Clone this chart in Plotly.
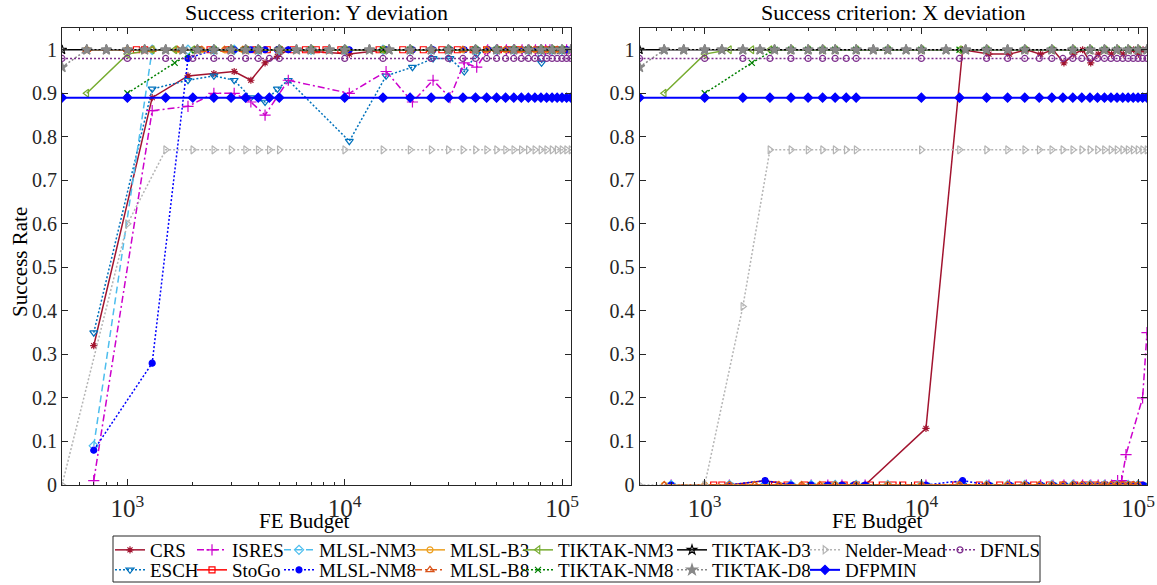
import math
import plotly.graph_objects as go

# ---------------- data ----------------
BUDGET_GRID = [500, 1000, 1500, 2000, 2500, 3000, 3500, 4000, 4500, 5000,
               10000, 15000, 20000, 25000, 30000, 35000, 40000, 45000, 50000, 55000,
               60000, 65000, 70000, 75000, 80000, 85000, 90000, 95000, 100000, 105000, 110000]
BUDGET_RUN = [700, 1300, 1900, 2500, 3100, 3700, 4300, 4900, 5500,
              10500, 15500, 20500, 25500, 30500, 35500, 40500, 45500, 50500, 55500,
              60500, 65500, 70500, 75500, 80500, 85500, 90500, 95500, 100500, 105500]
BUDGET_ISRES = [700, 1300, 1900, 2500, 3100, 3700, 4300, 5500,
                10500, 15500, 20500, 25500, 30500, 35500, 40500, 45500, 50500, 55500,
                60500, 65500, 70500, 75500, 80500, 84000, 88000, 105000, 110000]
BUDGET_NM3 = [700, 1300, 1900, 2500, 3100, 4000, 5000, 7000, 10000, 15000,
              20000, 25000, 30000, 40000, 50000, 60000, 70000, 80000, 90000, 100000]
BUDGET_B = [650, 1000, 1300, 1700, 2200, 2800, 3400, 4000, 5000, 7000,
            10000, 15000, 20000, 25000, 30000, 35000, 40000, 45000, 50000, 55000,
            60000, 65000, 70000, 75000, 80000, 85000, 90000, 95000, 100000]
BUDGET_STOGO = [1100, 1200, 2100, 2400, 2900, 3500, 3900, 4400, 5000, 5800,
                6600, 7400, 8200, 9600, 14400, 18500, 23000, 28000, 33000, 39000,
                45000, 51000, 57000, 63000, 70000, 77000, 85000, 93000, 102000]
BUDGET_TIKTAK = [500, 650, 800, 1000, 1200, 1500, 1800, 2100, 2500, 3000,
                 3500, 4000, 5000, 6000, 7000, 8500, 10000, 13000, 16000, 20000,
                 25000, 30000, 40000, 50000, 60000, 70000, 80000, 90000, 100000, 110000]
BUDGET_TIKTAK_NM3 = [650, 1000, 1300, 1650, 2000, 2500, 3000, 3500, 4000, 5000, 7000,
                     10000, 15000, 20000, 30000, 40000, 50000, 60000, 70000, 80000, 90000, 100000]
BUDGET_TIKTAK_NM8 = [1000, 1650, 2100, 2500, 3000, 3500, 4000, 5000, 7000,
                     10000, 15000, 20000, 30000, 40000, 50000, 60000, 70000, 80000, 90000, 100000]

# success rates, criterion Y deviation (left) and X deviation (right)
CRS_YDEV = [0.32, 0.89, 0.94, 0.945, 0.95, 0.93, 0.97, 0.985, 1.0,
            0.99, 1.0, 1.0, 1.0, 1.0, 1.0, 1.0, 1.0, 1.0, 1.0,
            1.0, 1.0, 1.0, 1.0, 1.0, 1.0, 1.0, 1.0, 1.0, 1.0]
CRS_XDEV = [0.0, 0.0, 0.01, 0.0, 0.0, 0.0, 0.0, 0.0, 0.0,
            0.13, 1.0, 0.99, 0.99, 1.0, 0.99, 1.0, 0.97, 0.99, 1.0,
            0.97, 0.99, 1.0, 0.99, 1.0, 0.99, 1.0, 1.0, 0.99, 1.0]
ESCH_YDEV = [0.35, 0.91, 0.93, 0.94, 0.93, 0.89, 0.88, 0.91, 0.93,
             0.79, 0.94, 0.96, 0.98, 0.98, 0.95, 0.99, 1.0, 1.0, 1.0,
             1.0, 1.0, 1.0, 1.0, 0.97, 1.0, 1.0, 1.0, 1.0, 1.0]
ESCH_XDEV = [0.0, 0.0, 0.0, 0.0, 0.0, 0.0, 0.0, 0.0, 0.0,
             0.0, 0.0, 0.0, 0.0, 0.0, 0.0, 0.0, 0.0, 0.0, 0.0,
             0.0, 0.0, 0.0, 0.0, 0.0, 0.0, 0.0, 0.0, 0.0, 0.0]
ISRES_YDEV = [0.01, 0.86, 0.87, 0.90, 0.90, 0.88, 0.85, 0.93,
              0.90, 0.95, 0.88, 0.93, 0.89, 0.97, 0.96, 1.0, 1.0, 1.0,
              1.0, 1.0, 1.0, 1.0, 1.0, 1.0, 1.0, 1.0, 1.0]
ISRES_XDEV = [0.0, 0.0, 0.0, 0.0, 0.0, 0.0, 0.0, 0.0,
              0.0, 0.0, 0.0, 0.0, 0.0, 0.0, 0.0, 0.0, 0.0, 0.0,
              0.0, 0.0, 0.0, 0.0, 0.01, 0.01, 0.07, 0.20, 0.35]
STOGO_YDEV = [1.0, 1.0, 1.0, 1.0, 1.0, 1.0, 1.0, 1.0, 1.0, 1.0,
              1.0, 1.0, 1.0, 1.0, 1.0, 1.0, 1.0, 1.0, 1.0, 1.0,
              1.0, 1.0, 1.0, 1.0, 1.0, 1.0, 1.0, 1.0, 1.0]
STOGO_XDEV = [0.0, 0.0, 0.0, 0.0, 0.0, 0.0, 0.0, 0.0, 0.0, 0.0,
              0.0, 0.0, 0.0, 0.0, 0.0, 0.0, 0.0, 0.0, 0.0, 0.0,
              0.0, 0.0, 0.0, 0.0, 0.0, 0.0, 0.0, 0.0, 0.0]
MLSL_NM3_YDEV = [0.09, 1.0, 1.0, 1.0, 1.0, 1.0, 1.0, 1.0, 1.0, 1.0,
                 1.0, 1.0, 1.0, 1.0, 1.0, 1.0, 1.0, 1.0, 1.0, 1.0]
MLSL_NM3_XDEV = [0.0, 0.0, 0.0, 0.0, 0.0, 0.0, 0.0, 0.0, 0.0, 0.0,
                 0.0, 0.0, 0.0, 0.0, 0.0, 0.0, 0.0, 0.0, 0.0, 0.0]
MLSL_NM8_YDEV = [0.08, 0.28, 0.98, 1.0, 1.0, 1.0, 1.0, 1.0, 1.0,
                 1.0, 1.0, 1.0, 1.0, 1.0, 1.0, 1.0, 1.0, 1.0, 1.0,
                 1.0, 1.0, 1.0, 1.0, 1.0, 1.0, 1.0, 1.0, 1.0, 1.0]
MLSL_NM8_XDEV = [0.0, 0.0, 0.01, 0.0, 0.0, 0.0, 0.0, 0.0, 0.0,
                 0.0, 0.01, 0.0, 0.0, 0.0, 0.0, 0.0, 0.0, 0.0, 0.0,
                 0.0, 0.0, 0.0, 0.0, 0.0, 0.0, 0.0, 0.0, 0.0, 0.0]
MLSL_B3_YDEV = [1.0, 1.0, 1.0, 1.0, 1.0, 1.0, 1.0, 1.0, 1.0, 1.0,
                1.0, 1.0, 1.0, 1.0, 1.0, 1.0, 1.0, 1.0, 1.0, 1.0,
                1.0, 1.0, 1.0, 1.0, 1.0, 1.0, 1.0, 1.0, 1.0]
MLSL_B3_XDEV = [0.0, 0.0, 0.0, 0.0, 0.0, 0.0, 0.0, 0.0, 0.0, 0.0,
                0.0, 0.0, 0.0, 0.0, 0.0, 0.0, 0.0, 0.0, 0.0, 0.0,
                0.0, 0.0, 0.0, 0.0, 0.0, 0.0, 0.0, 0.0, 0.0]
MLSL_B8_YDEV = [1.0, 1.0, 1.0, 1.0, 1.0, 1.0, 1.0, 1.0, 1.0, 1.0,
                1.0, 1.0, 1.0, 1.0, 1.0, 1.0, 1.0, 1.0, 1.0, 1.0,
                1.0, 1.0, 1.0, 1.0, 1.0, 1.0, 1.0, 1.0, 1.0]
MLSL_B8_XDEV = [0.0, 0.0, 0.0, 0.0, 0.0, 0.0, 0.0, 0.0, 0.0, 0.0,
                0.0, 0.0, 0.0, 0.0, 0.0, 0.0, 0.0, 0.0, 0.0, 0.0,
                0.0, 0.0, 0.0, 0.0, 0.0, 0.0, 0.0, 0.0, 0.0]
TIKTAK_NM3_YDEV = [0.90, 0.99, 1.0, 1.0, 1.0, 1.0, 1.0, 1.0, 1.0, 1.0, 1.0,
                   1.0, 1.0, 1.0, 1.0, 1.0, 1.0, 1.0, 1.0, 1.0, 1.0, 1.0]
TIKTAK_NM3_XDEV = [0.90, 0.99, 1.0, 1.0, 1.0, 1.0, 1.0, 1.0, 1.0, 1.0, 1.0,
                   1.0, 1.0, 1.0, 1.0, 1.0, 1.0, 1.0, 1.0, 1.0, 1.0, 1.0]
TIKTAK_NM8_YDEV = [0.90, 0.97, 1.0, 1.0, 1.0, 1.0, 1.0, 1.0, 1.0,
                   1.0, 1.0, 1.0, 1.0, 1.0, 1.0, 1.0, 1.0, 1.0, 1.0, 1.0]
TIKTAK_NM8_XDEV = [0.90, 0.97, 1.0, 1.0, 1.0, 1.0, 1.0, 1.0, 1.0,
                   1.0, 1.0, 1.0, 1.0, 1.0, 1.0, 1.0, 1.0, 1.0, 1.0, 1.0]
TIKTAK_D3_YDEV = [1.0, 1.0, 1.0, 1.0, 1.0, 1.0, 1.0, 1.0, 1.0, 1.0,
                  1.0, 1.0, 1.0, 1.0, 1.0, 1.0, 1.0, 1.0, 1.0, 1.0,
                  1.0, 1.0, 1.0, 1.0, 1.0, 1.0, 1.0, 1.0, 1.0, 1.0]
TIKTAK_D3_XDEV = [1.0, 1.0, 1.0, 1.0, 1.0, 1.0, 1.0, 1.0, 1.0, 1.0,
                  1.0, 1.0, 1.0, 1.0, 1.0, 1.0, 1.0, 1.0, 1.0, 1.0,
                  1.0, 1.0, 1.0, 1.0, 1.0, 1.0, 1.0, 1.0, 1.0, 1.0]
TIKTAK_D8_YDEV = [0.96, 1.0, 1.0, 1.0, 1.0, 1.0, 1.0, 1.0, 1.0, 1.0,
                  1.0, 1.0, 1.0, 1.0, 1.0, 1.0, 1.0, 1.0, 1.0, 1.0,
                  1.0, 1.0, 1.0, 1.0, 1.0, 1.0, 1.0, 1.0, 1.0, 1.0]
TIKTAK_D8_XDEV = [0.96, 1.0, 1.0, 1.0, 1.0, 1.0, 1.0, 1.0, 1.0, 1.0,
                  1.0, 1.0, 1.0, 1.0, 1.0, 1.0, 1.0, 1.0, 1.0, 1.0,
                  1.0, 1.0, 1.0, 1.0, 1.0, 1.0, 1.0, 1.0, 1.0, 1.0]
NM_YDEV = [0.0, 0.60, 0.77, 0.77, 0.77, 0.77, 0.77, 0.77, 0.77, 0.77,
           0.77, 0.77, 0.77, 0.77, 0.77, 0.77, 0.77, 0.77, 0.77, 0.77,
           0.77, 0.77, 0.77, 0.77, 0.77, 0.77, 0.77, 0.77, 0.77, 0.77, 0.77]
NM_XDEV = [0.0, 0.0, 0.41, 0.77, 0.77, 0.77, 0.77, 0.77, 0.77, 0.77,
           0.77, 0.77, 0.77, 0.77, 0.77, 0.77, 0.77, 0.77, 0.77, 0.77,
           0.77, 0.77, 0.77, 0.77, 0.77, 0.77, 0.77, 0.77, 0.77, 0.77, 0.77]
DFNLS_YDEV = [0.98, 0.98, 0.98, 0.98, 0.98, 0.98, 0.98, 0.98, 0.98, 0.98,
              0.98, 0.98, 0.98, 0.98, 0.98, 0.98, 0.98, 0.98, 0.98, 0.98,
              0.98, 0.98, 0.98, 0.98, 0.98, 0.98, 0.98, 0.98, 0.98, 0.98, 0.98]
DFNLS_XDEV = [0.98, 0.98, 0.98, 0.98, 0.98, 0.98, 0.98, 0.98, 0.98, 0.98,
              0.98, 0.98, 0.98, 0.98, 0.98, 0.98, 0.98, 0.98, 0.98, 0.98,
              0.98, 0.98, 0.98, 0.98, 0.98, 0.98, 0.98, 0.98, 0.98, 0.98, 0.98]
DFPMIN_YDEV = [0.89, 0.89, 0.89, 0.89, 0.89, 0.89, 0.89, 0.89, 0.89, 0.89,
               0.89, 0.89, 0.89, 0.89, 0.89, 0.89, 0.89, 0.89, 0.89, 0.89,
               0.89, 0.89, 0.89, 0.89, 0.89, 0.89, 0.89, 0.89, 0.89, 0.89, 0.89]
DFPMIN_XDEV = [0.89, 0.89, 0.89, 0.89, 0.89, 0.89, 0.89, 0.89, 0.89, 0.89,
               0.89, 0.89, 0.89, 0.89, 0.89, 0.89, 0.89, 0.89, 0.89, 0.89,
               0.89, 0.89, 0.89, 0.89, 0.89, 0.89, 0.89, 0.89, 0.89, 0.89, 0.89]

TITLES = ["Success criterion: Y deviation", "Success criterion: X deviation"]

# drawing order
SERIES = [
    ("CRS", BUDGET_RUN, CRS_YDEV, CRS_XDEV),
    ("ESCH", BUDGET_RUN, ESCH_YDEV, ESCH_XDEV),
    ("ISRES", BUDGET_ISRES, ISRES_YDEV, ISRES_XDEV),
    ("StoGo", BUDGET_STOGO, STOGO_YDEV, STOGO_XDEV),
    ("MLSL-NM3", BUDGET_NM3, MLSL_NM3_YDEV, MLSL_NM3_XDEV),
    ("MLSL-NM8", BUDGET_RUN, MLSL_NM8_YDEV, MLSL_NM8_XDEV),
    ("MLSL-B3", BUDGET_B, MLSL_B3_YDEV, MLSL_B3_XDEV),
    ("MLSL-B8", BUDGET_B, MLSL_B8_YDEV, MLSL_B8_XDEV),
    ("TIKTAK-NM3", BUDGET_TIKTAK_NM3, TIKTAK_NM3_YDEV, TIKTAK_NM3_XDEV),
    ("TIKTAK-NM8", BUDGET_TIKTAK_NM8, TIKTAK_NM8_YDEV, TIKTAK_NM8_XDEV),
    ("TIKTAK-D3", BUDGET_TIKTAK, TIKTAK_D3_YDEV, TIKTAK_D3_XDEV),
    ("TIKTAK-D8", BUDGET_TIKTAK, TIKTAK_D8_YDEV, TIKTAK_D8_XDEV),
    ("Nelder-Mead", BUDGET_GRID, NM_YDEV, NM_XDEV),
    ("DFNLS", BUDGET_GRID, DFNLS_YDEV, DFNLS_XDEV),
    ("DFPMIN", BUDGET_GRID, DFPMIN_YDEV, DFPMIN_XDEV),
]

# ---------------- styles ----------------
DOT = "2px,2px"
DASH = "7px,4px"
DASHDOT = "7px,3px,2px,3px"
STYLE = {
    "CRS": dict(color="#A2142F", dash="solid", symbol="asterisk-open", size=6, width=1.5),
    "ISRES": dict(color="#CC00CC", dash=DASHDOT, symbol="cross-thin-open", size=8, width=1.5),
    "MLSL-NM3": dict(color="#4DBEEE", dash=DASH, symbol="diamond-open", size=7, width=1.5),
    "MLSL-B3": dict(color="#EDA020", dash="solid", symbol="circle-open", size=6, width=1.5),
    "TIKTAK-NM3": dict(color="#77AC30", dash="solid", symbol="triangle-left-open", size=7, width=1.5),
    "TIKTAK-D3": dict(color="#000000", dash="solid", symbol="star-open", size=7, width=1.5),
    "Nelder-Mead": dict(color="#B4B4B4", dash=DOT, symbol="triangle-right-open", size=7, width=1.5),
    "DFNLS": dict(color="#7E2F8E", dash=DOT, symbol="circle-open", size=6, width=1.5),
    "ESCH": dict(color="#0072BD", dash=DOT, symbol="triangle-down-open", size=7, width=1.5),
    "StoGo": dict(color="#FF0000", dash="solid", symbol="square-open", size=6, width=1.5),
    "MLSL-NM8": dict(color="#0000FF", dash=DOT, symbol="circle", size=6, width=1.5),
    "MLSL-B8": dict(color="#D95319", dash=DASHDOT, symbol="triangle-up-open", size=7, width=1.5),
    "TIKTAK-NM8": dict(color="#008000", dash=DOT, symbol="x-thin-open", size=6, width=1.5),
    "TIKTAK-D8": dict(color="#888888", dash=DOT, symbol="star", size=8, width=1.5),
    "DFPMIN": dict(color="#0000FF", dash="solid", symbol="diamond", size=7, width=2.0),
}

# legend cell (left px of entry, row) -- layout only
LEGEND_CELL = {
    "CRS": (120, 0), "ISRES": (202, 0), "MLSL-NM3": (289, 0), "MLSL-B3": (420, 0),
    "TIKTAK-NM3": (528, 0), "TIKTAK-D3": (682, 0), "Nelder-Mead": (815, 0), "DFNLS": (950, 0),
    "ESCH": (120, 1), "StoGo": (202, 1), "MLSL-NM8": (289, 1), "MLSL-B8": (420, 1),
    "TIKTAK-NM8": (528, 1), "TIKTAK-D8": (682, 1), "DFPMIN": (815, 1),
}

W, H = 1157, 585
ML, MR, MT, MB = 62, 10, 28, 100
PW = W - ML - MR
PH = H - MT - MB


def px2x(px):
    return (px - ML) / PW


def py2y(py):
    return (H - MB - py) / PH


FONT = "'Liberation Serif', 'Times New Roman', Times, serif"
fig = go.Figure()

for i, (name, xs, ydev, xdev) in enumerate(SERIES):
    st = STYLE[name]
    lkey = "legend" if i == 0 else f"legend{i + 1}"
    for panel, vals in ((0, ydev), (1, xdev)):
        fig.add_trace(go.Scatter(
            x=xs, y=vals, name=name, mode="lines+markers",
            xaxis="x" if panel == 0 else "x2",
            yaxis="y" if panel == 0 else "y2",
            line=dict(color=st["color"], dash=st["dash"], width=st["width"]),
            marker=dict(symbol=st["symbol"], size=st["size"], color=st["color"],
                        line=dict(color=st["color"], width=1.2)),
            showlegend=(panel == 0), legend=lkey,
        ))
    cx, row = LEGEND_CELL[name]
    fig.update_layout(**{lkey: dict(
        x=px2x(cx - 10), y=py2y(550 if row == 0 else 570),
        xanchor="left", yanchor="middle",
        bgcolor="rgba(0,0,0,0)", borderwidth=0,
        font=dict(family=FONT, size=19, color="#000000"),
        itemwidth=30,
    )})

xr = [math.log10(500), math.log10(110000)]
axis_common = dict(
    showline=True, linecolor="#262626", linewidth=1, mirror="allticks",
    ticks="inside", ticklen=6, tickcolor="#262626", showgrid=False, zeroline=False,
    tickfont=dict(family=FONT, size=20, color="#262626"),
)
xax = dict(type="log", range=xr, dtick=1, exponentformat="power", ticklabelstandoff=2,
           minor=dict(ticks="inside", ticklen=3, dtick="D1", tickcolor="#262626", showgrid=False),
           **axis_common)
yax = dict(range=[0, 1.05], dtick=0.1, **axis_common)

fig.update_layout(
    width=W, height=H,
    margin=dict(l=ML, r=MR, t=MT, b=MB, autoexpand=False),
    plot_bgcolor="white", paper_bgcolor="white",
    font=dict(family=FONT, color="#000000"),
    xaxis=dict(domain=[0, px2x(571)], anchor="y", **xax),
    xaxis2=dict(domain=[px2x(639.5), 1], anchor="y2", **xax),
    yaxis=dict(domain=[0, 1], anchor="x", **yax),
    yaxis2=dict(domain=[0, 1], anchor="x2", **yax),
)

annotations = [
    dict(text=TITLES[0], x=px2x(316), y=py2y(12), xref="paper", yref="paper",
         showarrow=False, xanchor="center", yanchor="middle",
         font=dict(family=FONT, size=22, color="#000000")),
    dict(text=TITLES[1], x=px2x(893), y=py2y(12), xref="paper", yref="paper",
         showarrow=False, xanchor="center", yanchor="middle",
         font=dict(family=FONT, size=22, color="#000000")),
    dict(text="FE Budget", x=px2x(304), y=py2y(521), xref="paper", yref="paper",
         showarrow=False, xanchor="center", yanchor="middle",
         font=dict(family=FONT, size=21, color="#000000")),
    dict(text="FE Budget", x=px2x(877), y=py2y(521), xref="paper", yref="paper",
         showarrow=False, xanchor="center", yanchor="middle",
         font=dict(family=FONT, size=21, color="#000000")),
    dict(text="Success Rate", x=px2x(20), y=py2y(262), xref="paper", yref="paper",
         showarrow=False, xanchor="center", yanchor="middle", textangle=-90,
         font=dict(family=FONT, size=21, color="#000000")),
]
fig.update_layout(annotations=annotations)

fig.add_shape(type="rect", xref="paper", yref="paper",
              x0=px2x(113), x1=px2x(1040), y0=py2y(582), y1=py2y(536),
              line=dict(color="#262626", width=1), fillcolor="rgba(0,0,0,0)")

fig.write_html("out.html")
